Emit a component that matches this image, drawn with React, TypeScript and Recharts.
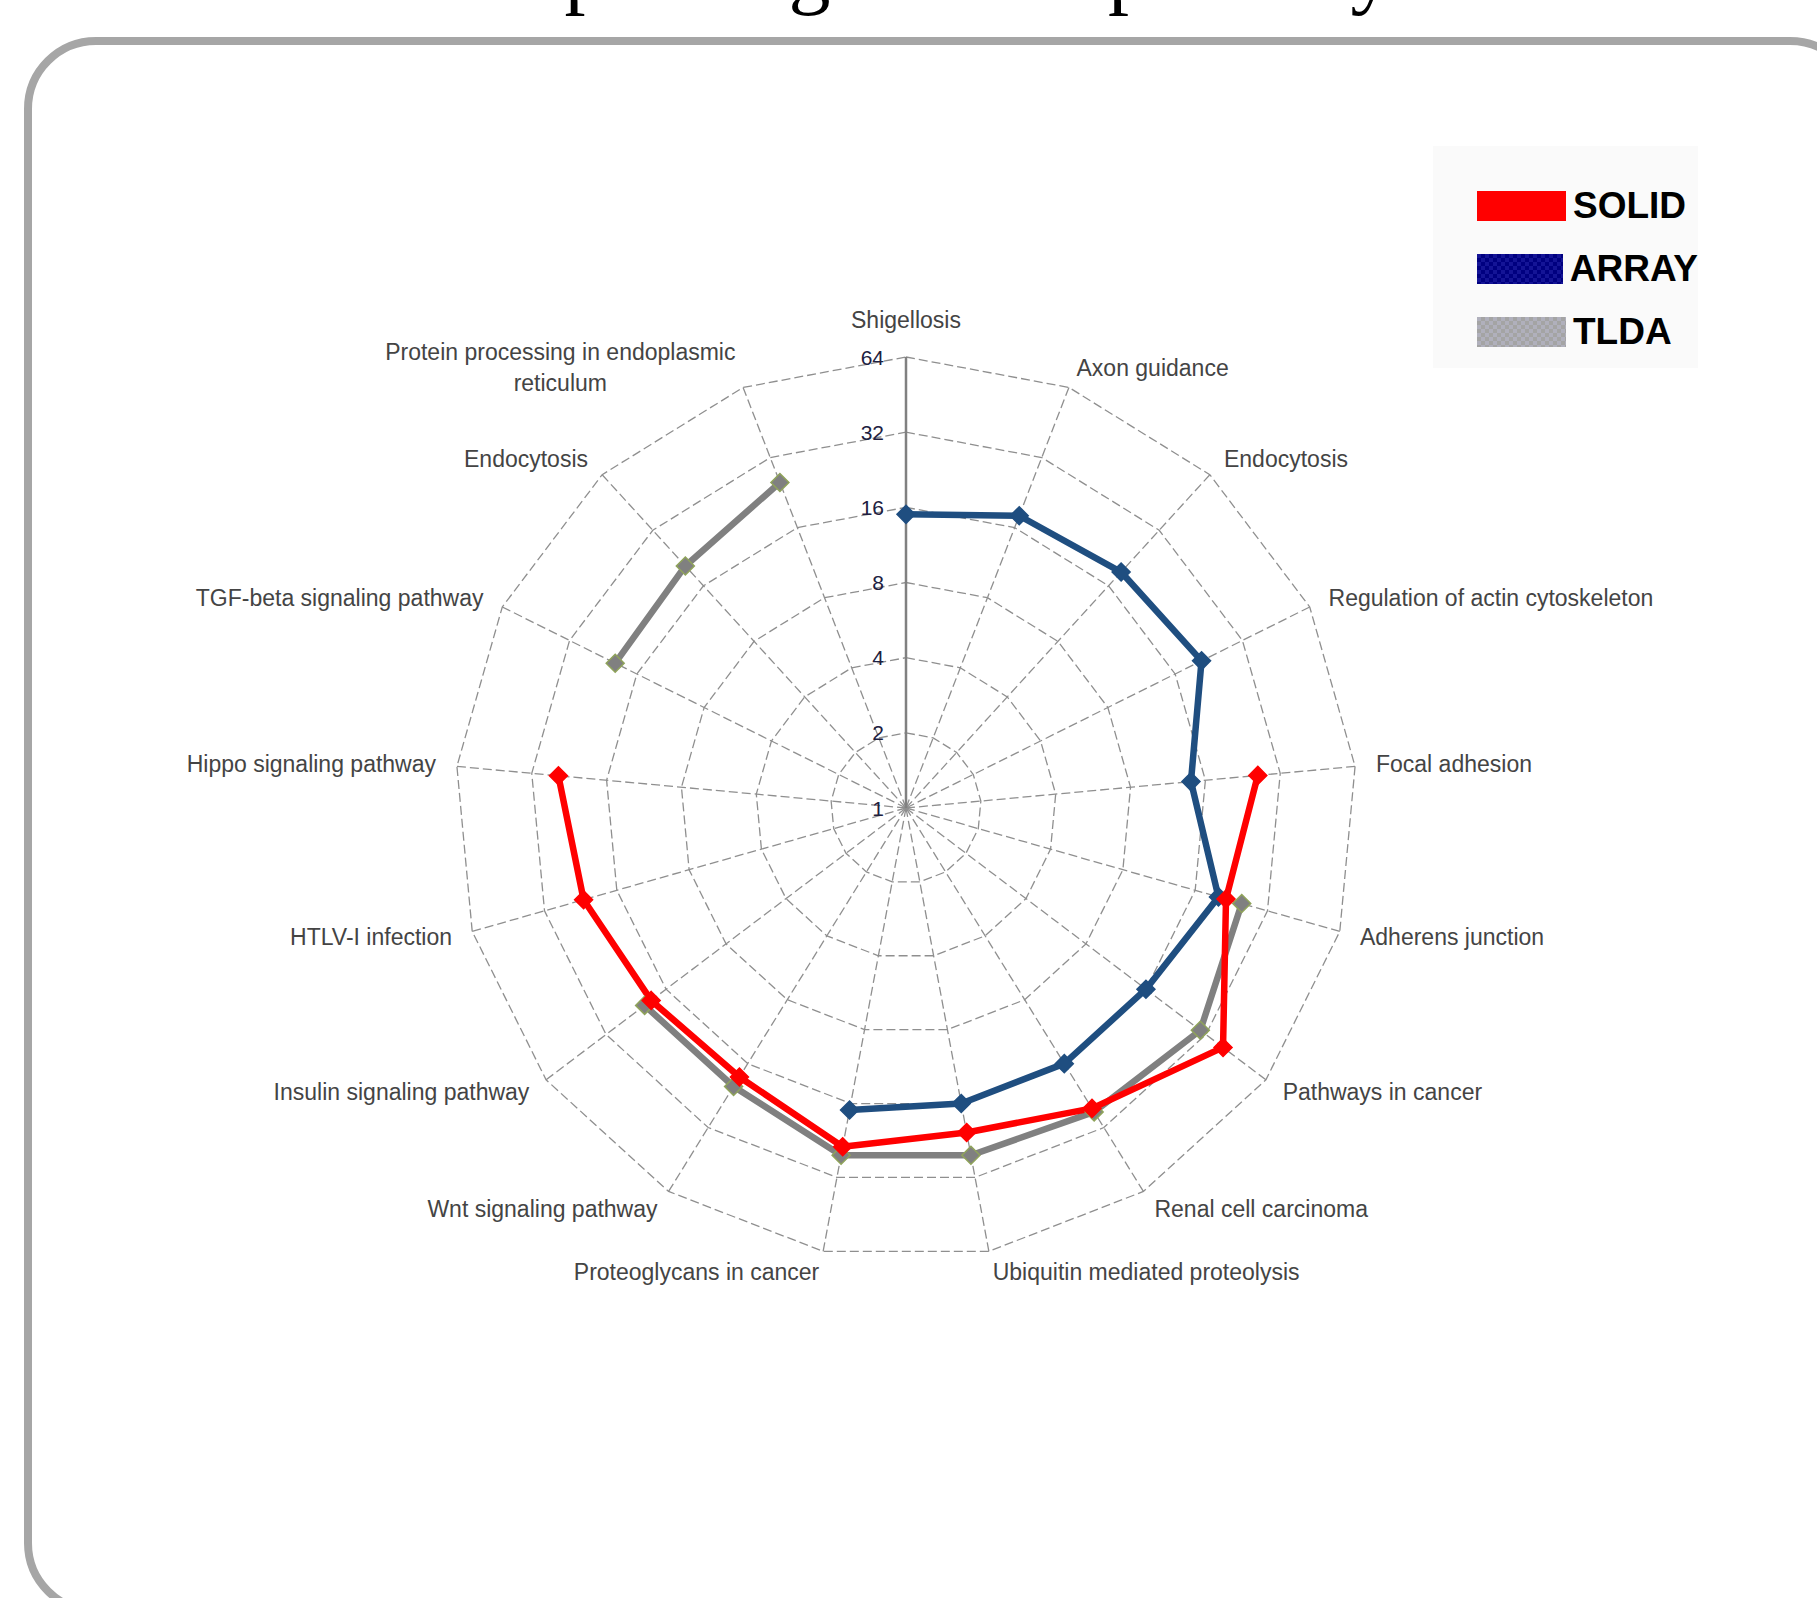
import { RadarChart, Radar, PolarGrid, PolarAngleAxis, PolarRadiusAxis, Legend } from 'recharts'

// KEGG pathways, clockwise from the top
const pathways = [
  'Shigellosis',
  'Axon guidance',
  'Endocytosis',
  'Regulation of actin cytoskeleton',
  'Focal adhesion',
  'Adherens junction',
  'Pathways in cancer',
  'Renal cell carcinoma',
  'Ubiquitin mediated proteolysis',
  'Proteoglycans in cancer',
  'Wnt signaling pathway',
  'Insulin signaling pathway',
  'HTLV-I infection',
  'Hippo signaling pathway',
  'TGF-beta signaling pathway',
  'Endocytosis',
  'Protein processing in endoplasmic reticulum',
]

// null = pathway not found by that platform
const solid = [null, null, null, null, 26, 21.5, 39, 26, 21, 24, 18.5, 19, 22, 25, null, null, null]
const array = [15, 18, 19, 21, 14, 20, 16, 16, 16, 17, null, null, null, null, null, null, null]
const tlda = [null, null, null, null, null, 25, 30, 27, 26, 26, 20.5, 20.5, null, null, 20, 20.5, 25]

const radiusTicks = [1, 2, 4, 8, 16, 32, 64]
const seriesOrder = ['SOLID', 'ARRAY', 'TLDA']

const W = 1817
const H = 1598
const CX = 906
const CY = 808
const R = 451
const LABEL_SIZE = 23
const FONT = '"Liberation Sans", Arial, sans-serif'

const data = pathways.map((name, i) => ({
  key: String(i),
  name,
  SOLID: solid[i],
  ARRAY: array[i],
  TLDA: tlda[i],
}))

const measureCtx = typeof document !== 'undefined' ? document.createElement('canvas').getContext('2d') : null

function textWidth(s: string) {
  if (!measureCtx) return s.length * LABEL_SIZE * 0.5
  measureCtx.font = `${LABEL_SIZE}px "Liberation Sans"`
  return measureCtx.measureText(s).width
}

function wrapLabel(s: string, max: number) {
  if (textWidth(s) <= max + 40) return [s]
  const lines: string[] = []
  let cur = ''
  s.split(' ').forEach(w => {
    const next = cur ? `${cur} ${w}` : w
    if (cur && textWidth(next) > max) {
      lines.push(cur)
      cur = w
    } else {
      cur = next
    }
  })
  if (cur) lines.push(cur)
  return lines
}

function AngleTick(props: any) {
  const { x, y, payload } = props
  const label = pathways[Number(payload.value)] ?? ''
  const dx = x - CX
  const dy = y - CY
  const anchor = Math.abs(dx) < 5 ? 'middle' : dx > 0 ? 'start' : 'end'
  const lines = wrapLabel(label, 370)
  const common = { fontSize: LABEL_SIZE, fontFamily: FONT, fill: '#444444' }

  if (anchor === 'middle') {
    return (
      <text x={x} y={dy < 0 ? y - 8 : y + 20} textAnchor="middle" {...common}>
        {label}
      </text>
    )
  }
  if (lines.length === 1) {
    return (
      <text x={x} y={y} textAnchor={anchor} dominantBaseline="central" {...common}>
        {label}
      </text>
    )
  }
  // wrapped label: centred block whose outer edge sits at the tick point
  const blockW = Math.max(...lines.map(textWidth))
  const mid = anchor === 'end' ? x - blockW / 2 : x + blockW / 2
  const lh = 31
  const top = y - ((lines.length - 1) * lh) / 2
  return (
    <g>
      {lines.map((ln, i) => (
        <text key={i} x={mid} y={top + i * lh} textAnchor="middle" dominantBaseline="central" {...common}>
          {ln}
        </text>
      ))}
    </g>
  )
}

function RadiusTick(props: any) {
  const { x, y, payload } = props
  return (
    <text x={x - 22} y={y} textAnchor="end" dominantBaseline="central" fontSize={21} fontFamily={FONT} fill="#202040">
      {payload.value}
    </text>
  )
}

// open polyline: breaks wherever a value is missing
function segmentedShape(key: string, color: string) {
  return (props: any) => {
    const pts = props.points ?? []
    let d = ''
    let pen = false
    pts.forEach((p: any) => {
      const v = p.payload?.[key]
      if (v == null) {
        pen = false
        return
      }
      d += `${pen ? 'L' : 'M'}${p.x},${p.y}`
      pen = true
    })
    const first = pts[0]
    const last = pts[pts.length - 1]
    if (first && last && first.payload?.[key] != null && last.payload?.[key] != null) {
      d += `L${first.x},${first.y}`
    }
    return <path d={d} fill="none" stroke={color} strokeWidth={6.5} strokeLinejoin="round" strokeLinecap="round" />
  }
}

function diamondDot(key: string, fill: string, stroke: string) {
  return (props: any) => {
    const row = props.payload?.payload ?? props.payload
    const k = props.key ?? `${key}-${props.index}`
    if (!row || row[key] == null) return <g key={k} />
    const { cx, cy } = props
    const s = 9
    return (
      <polygon
        key={k}
        points={`${cx},${cy - s} ${cx + s},${cy} ${cx},${cy + s} ${cx - s},${cy}`}
        fill={fill}
        stroke={stroke}
        strokeWidth={1.5}
      />
    )
  }
}

function Swatch({ name }: { name: string }) {
  const fill = name === 'SOLID' ? '#ff0000' : `url(#sw-${name})`
  return (
    <svg width={89} height={30} style={{ display: 'block' }}>
      <defs>
        <pattern id="sw-ARRAY" width={8} height={8} patternUnits="userSpaceOnUse">
          <rect width={8} height={8} fill="#000080" />
          <rect width={4} height={4} fill="#141496" />
          <rect x={4} y={4} width={4} height={4} fill="#141496" />
        </pattern>
        <pattern id="sw-TLDA" width={8} height={8} patternUnits="userSpaceOnUse">
          <rect width={8} height={8} fill="#a4a4a4" />
          <rect width={4} height={4} fill="#b0b0bc" />
          <rect x={4} y={4} width={4} height={4} fill="#b0b0bc" />
        </pattern>
      </defs>
      <rect width={89} height={30} fill={fill} />
    </svg>
  )
}

function LegendBox(props: any) {
  const names = (props.payload ?? []).map((p: any) => p.value as string)
  const ordered = seriesOrder.filter(n => names.includes(n))
  return (
    <div style={{ background: '#fafafa', width: 265, height: 222, boxSizing: 'border-box', padding: '45px 0 0 44px' }}>
      {ordered.map(n => (
        <div key={n} style={{ display: 'flex', alignItems: 'center', height: 30, marginBottom: 33 }}>
          <Swatch name={n} />
          <span style={{ marginLeft: 7, fontFamily: FONT, fontWeight: 700, fontSize: 37, color: '#000', lineHeight: '30px' }}>
            {n}
          </span>
        </div>
      ))}
    </div>
  )
}

export default function App() {
  return (
    <div style={{ position: 'absolute', left: 0, top: 0, width: W, height: H, background: '#fff', overflow: 'hidden' }}>
      <div
        style={{
          position: 'absolute',
          left: 24,
          top: 37,
          width: 1838,
          height: 1578,
          border: '8px solid #a6a6a6',
          borderRadius: 72,
          boxSizing: 'border-box',
        }}
      />
      {/* page title sits above the top edge; only its descenders show */}
      <svg width={W} height={40} style={{ position: 'absolute', left: 0, top: 0 }}>
        <text x={477} y={-2} fontSize={84} fontFamily='"Liberation Serif", "Times New Roman", serif' fill="#000">
          Top 17 significant pathways
        </text>
      </svg>
      <div style={{ position: 'absolute', left: 0, top: 0 }}>
        <RadarChart width={W} height={H} data={data} cx={CX} cy={CY} outerRadius={R} margin={{ top: 0, right: 0, bottom: 0, left: 0 }}>
          <PolarGrid gridType="polygon" stroke="#8f8f8f" strokeWidth={1.3} strokeDasharray="9 4" />
          <PolarAngleAxis dataKey="key" tick={AngleTick} tickLine={false} axisLine={false} tickSize={21} />
          <PolarRadiusAxis
            angle={90}
            scale="log"
            domain={[1, 64]}
            ticks={radiusTicks}
            allowDataOverflow
            tick={RadiusTick}
            axisLine={{ stroke: '#808080', strokeWidth: 2.5 }}
          />
          <Radar
            name="TLDA"
            dataKey="TLDA"
            stroke="#808080"
            fill="none"
            shape={segmentedShape('TLDA', '#808080')}
            dot={diamondDot('TLDA', '#808080', '#8fa35a')}
            isAnimationActive={false}
          />
          <Radar
            name="ARRAY"
            dataKey="ARRAY"
            stroke="#1f4e80"
            fill="none"
            shape={segmentedShape('ARRAY', '#1f4e80')}
            dot={diamondDot('ARRAY', '#1f4e80', '#1f4e80')}
            isAnimationActive={false}
          />
          <Radar
            name="SOLID"
            dataKey="SOLID"
            stroke="#ff0000"
            fill="none"
            shape={segmentedShape('SOLID', '#ff0000')}
            dot={diamondDot('SOLID', '#ff0000', '#ff0000')}
            isAnimationActive={false}
          />
          <Legend
            layout="vertical"
            align="center"
            verticalAlign="middle"
            content={LegendBox}
            wrapperStyle={{ position: 'absolute', left: 1433, top: 146, width: 265, height: 222 }}
          />
        </RadarChart>
      </div>
    </div>
  )
}
